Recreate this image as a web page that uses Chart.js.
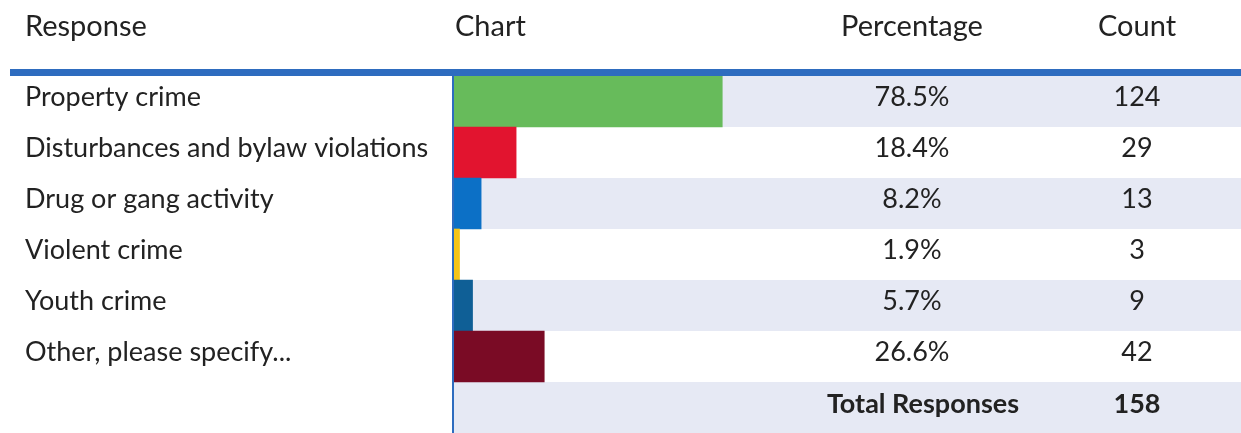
<!DOCTYPE html>
<html>
<head>
<meta charset="utf-8">
<script src="https://cdn.jsdelivr.net/npm/chart.js@4"></script>
<style>
html,body{margin:0;padding:0;background:#fff;}
#wrap{position:relative;width:1241px;height:433px;}
</style>
</head>
<body>
<div id="wrap"><canvas id="c" width="1241" height="433"></canvas></div>
<script>
const categories = ['Property crime','Disturbances and bylaw violations','Drug or gang activity','Violent crime','Youth crime','Other, please specify...',''];
const percentages = [78.5, 18.4, 8.2, 1.9, 5.7, 26.6];
const counts = [124, 29, 13, 3, 9, 42];
const totalResponses = 158;
const headers = ['Response','Chart','Percentage','Count'];
const barColors = ['#67bb5b','#e2142f','#0c70c6','#f5c518','#0f5f96','#7a0b25'];

const FONT = 'Lato, "Open Sans", sans-serif';
const TXT = '#222222';
const BAND = '#e6e9f4';
const LINE = '#2e6cbf';
const PCT_X = 912, CNT_X = 1137;
const TEXT_SHIFT = -4;

const tablePlugin = {
  id: 'tablePlugin',
  beforeDatasetsDraw(chart) {
    const {ctx, chartArea, scales:{y}} = chart;
    const n = categories.length;
    const h = (y.bottom - y.top) / n;
    ctx.save();
    ctx.fillStyle = BAND;
    for (let i = 0; i < n; i += 2) {
      const c = y.getPixelForValue(i);
      ctx.fillRect(chartArea.left, c - h/2, chart.width - chartArea.left, h);
    }
    ctx.restore();
  },
  afterDraw(chart) {
    const {ctx, chartArea, scales:{y}} = chart;
    ctx.save();
    ctx.fillStyle = LINE;
    ctx.fillRect(10, 69, chart.width - 10, 7);
    ctx.fillRect(chartArea.left - 1, chartArea.top, 2, chart.height - chartArea.top);
    ctx.fillStyle = TXT;
    ctx.font = '29px ' + FONT;
    ctx.textBaseline = 'middle';
    ctx.textAlign = 'left';
    ctx.fillText(headers[0], 25, 27);
    ctx.fillText(headers[1], 455, 27);
    ctx.textAlign = 'center';
    ctx.fillText(headers[2], PCT_X, 27);
    ctx.fillText(headers[3], CNT_X, 27);
    ctx.font = '27px ' + FONT;
    for (let i = 0; i < percentages.length; i++) {
      const c = y.getPixelForValue(i) + TEXT_SHIFT;
      ctx.fillText(percentages[i].toFixed(1) + '%', PCT_X, c);
      ctx.fillText(String(counts[i]), CNT_X, c);
    }
    const tc = y.getPixelForValue(categories.length - 1) + TEXT_SHIFT + 1;
    ctx.font = 'bold 27px ' + FONT;
    ctx.fillText('Total Responses', 923, tc);
    ctx.fillText(String(totalResponses), CNT_X, tc);
    ctx.restore();
  }
};

new Chart(document.getElementById('c'), {
  type: 'bar',
  data: {
    labels: categories,
    datasets: [{
      data: percentages.concat([null]),
      backgroundColor: barColors,
      borderWidth: 0,
      barPercentage: 1,
      categoryPercentage: 1
    }]
  },
  options: {
    indexAxis: 'y',
    responsive: false,
    animation: false,
    layout: { padding: { top: 76, left: 25, right: 445, bottom: 0 } },
    plugins: { legend: { display: false }, tooltip: { enabled: false } },
    scales: {
      x: { display: false, min: 0, max: 100 },
      y: {
        grid: { display: false, drawTicks: false },
        border: { display: false },
        ticks: { crossAlign: 'far', color: TXT, padding: 0, labelOffset: TEXT_SHIFT, font: { family: FONT, size: 27 } },
        afterFit(scale) { scale.width = 428; scale.paddingTop = 0; scale.paddingBottom = 0; }
      }
    }
  },
  plugins: [tablePlugin]
});
</script>
</body>
</html>
